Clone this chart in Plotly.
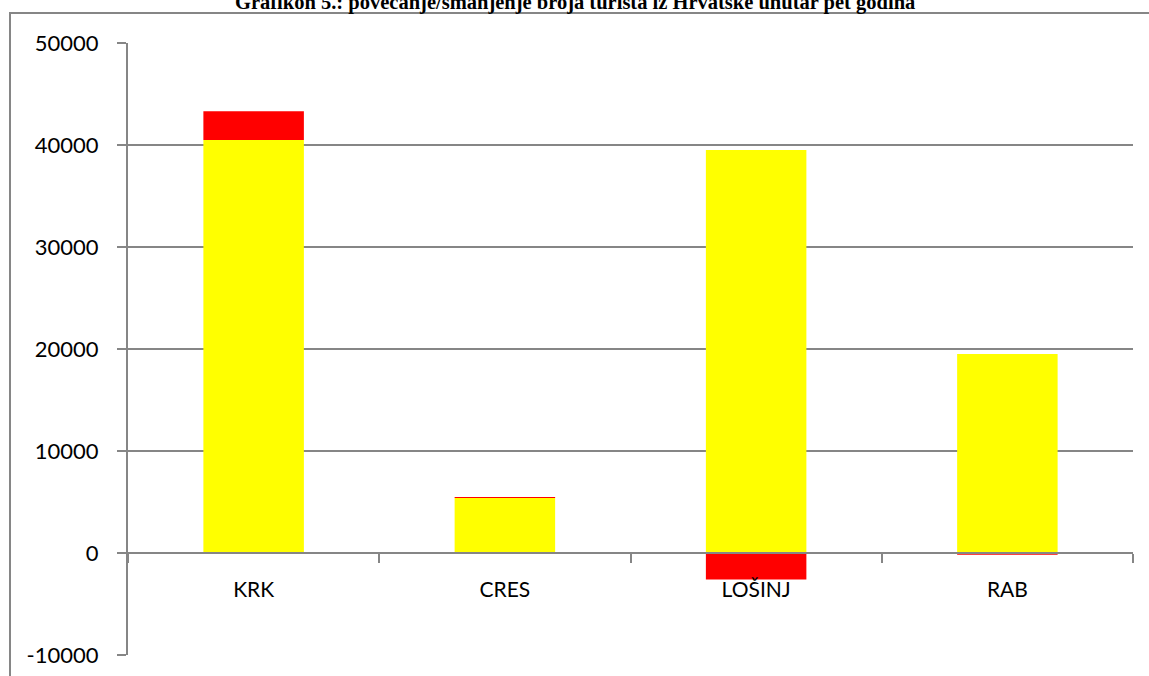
import plotly.graph_objects as go

categories = ["KRK", "CRES", "LOŠINJ", "RAB"]
base_values = [40500, 5400, 39500, 19500]
change_values = [2800, 90, -2600, -180]
y_ticks = [-10000, 0, 10000, 20000, 30000, 40000, 50000]
title_text = "Grafikon 5.: povećanje/smanjenje broja turista iz Hrvatske unutar pet godina"

GRID = "#868686"
W, H = 1149, 676
L, R, T, B = 128, 16, 43, 21
pw, ph = W - L - R, H - T - B
FONT = "Lato, Open Sans, sans-serif"

fig = go.Figure()
fig.add_trace(go.Bar(x=categories, y=base_values, marker=dict(color="#FFFF00", line=dict(width=0)),
                     width=0.4, showlegend=False))
fig.add_trace(go.Bar(x=categories, y=change_values, marker=dict(color="#FF0000", line=dict(width=0)),
                     width=0.4, showlegend=False))

fig.update_layout(
    width=W, height=H,
    margin=dict(l=L, r=R, t=T, b=B, pad=0, autoexpand=False),
    barmode="relative",
    plot_bgcolor="white", paper_bgcolor="white",
    font=dict(family=FONT, color="black"),
    hovermode=False,
    xaxis=dict(
        anchor="free", position=1/6, automargin=False,
        showline=True, linecolor=GRID, linewidth=2,
        ticks="outside", tickson="boundaries", ticklen=9, tickcolor=GRID, tickwidth=2,
        showgrid=False, tickfont=dict(size=21, family=FONT),
        range=[-0.5, 3.5], ticklabelstandoff=18,
    ),
    yaxis=dict(
        range=[-10000, 50000], tickvals=y_ticks, ticktext=[str(v) for v in y_ticks],
        automargin=False,
        showline=True, linecolor=GRID, linewidth=2,
        ticks="outside", ticklen=9, tickcolor=GRID, tickwidth=2,
        showgrid=True, gridcolor=GRID, gridwidth=1.5,
        zeroline=False, tickfont=dict(size=22, family=FONT),
        ticklabelstandoff=14,
    ),
)

# outer chart-area border
fig.add_shape(type="rect", xref="paper", yref="paper",
              x0=(10 - L) / pw, x1=(W + 20 - L) / pw,
              y0=-(B + 20) / ph, y1=(H - B - 13) / ph,
              line=dict(color=GRID, width=2), fillcolor="rgba(0,0,0,0)", layer="below")

fig.add_annotation(text=f"<b>{title_text}</b>", xref="paper", yref="paper",
                   x=(575 - L) / pw, y=(H - B - 2) / ph, xanchor="center", yanchor="middle",
                   showarrow=False, font=dict(family="Liberation Serif, serif", size=20.5, color="black"))

fig.write_html("out.html", config={"displayModeBar": False, "staticPlot": True},
               post_script="document.body.style.margin='0';document.body.style.overflow='hidden';")
